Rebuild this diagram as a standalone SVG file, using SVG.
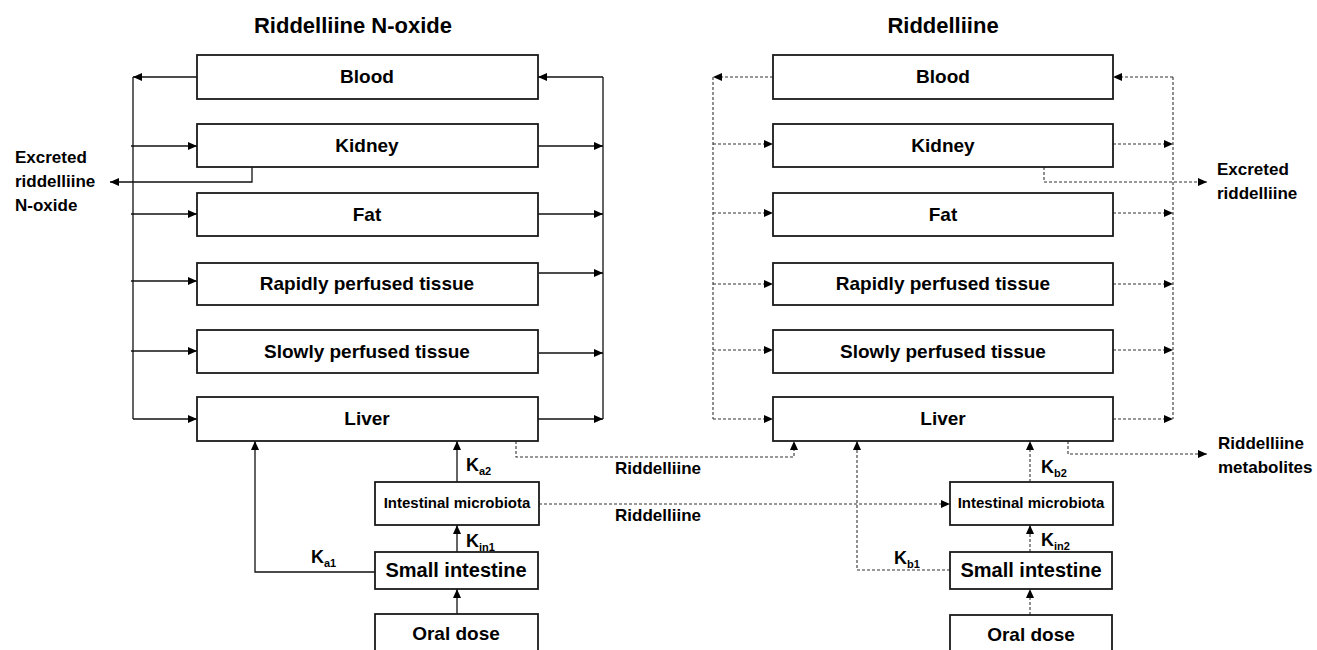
<svg xmlns="http://www.w3.org/2000/svg" width="1317" height="650" viewBox="0 0 1317 650">
<defs>
<marker id="ah" viewBox="0 0 10 10" refX="9" refY="5" markerWidth="10" markerHeight="10" markerUnits="userSpaceOnUse" orient="auto">
<path d="M0,1 L9,5 L0,9 z" fill="#000"/>
</marker>
<style>
.box{fill:#fff;stroke:#1a1a1a;stroke-width:1.8}
.t{font-family:"Liberation Sans",Arial,sans-serif;font-weight:bold;fill:#000}
.title{font-size:22px;text-anchor:middle}
.lbl{font-size:19px;text-anchor:middle}
.small{font-size:15px;text-anchor:middle}
.side{font-size:17px}
.k{font-size:18px}
.sub{font-size:11px}
.s{fill:none;stroke:#111;stroke-width:1.3}
.d{fill:none;stroke:#333;stroke-width:1.1;stroke-dasharray:3 2}
.a{marker-end:url(#ah)}
</style>
</defs>
<rect width="1317" height="650" fill="#fff"/>

<text class="t title" x="353" y="33">Riddelliine N-oxide</text>
<text class="t title" x="943" y="33">Riddelliine</text>

<g id="connectors">
<path class="s a" d="M197,77 H133"/>
<path class="s" d="M133,77 V419"/>
<path class="s a" d="M133,419 H197"/>
<path class="s a" d="M131,146 H197"/>
<path class="s a" d="M131,214 H197"/>
<path class="s a" d="M131,281 H197"/>
<path class="s a" d="M131,351 H197"/>
<path class="s a" d="M252,167 V182 H110"/>
<path class="s" d="M603,77 V419"/>
<path class="s a" d="M603,77 H538"/>
<path class="s a" d="M538,146 H603"/>
<path class="s a" d="M538,214 H603"/>
<path class="s a" d="M539,273 H603"/>
<path class="s a" d="M539,353 H603"/>
<path class="s a" d="M538,419 H603"/>
<path class="s a" d="M375,572 H255 V441"/>
<path class="s a" d="M457,482 V441"/>
<path class="s a" d="M457,552 V525"/>
<path class="s a" d="M457,614 V589"/>
<path class="d a" d="M516,441 V457 H794 V441"/>
<path class="d a" d="M539,504 H950"/>
<path class="d a" d="M773,77 H713"/>
<path class="d" d="M713,77 V419"/>
<path class="d a" d="M713,419 H773"/>
<path class="d a" d="M713,144 H773"/>
<path class="d a" d="M713,213 H773"/>
<path class="d a" d="M713,284 H773"/>
<path class="d a" d="M713,350 H773"/>
<path class="d" d="M1173,77 V419"/>
<path class="d a" d="M1173,77 H1113"/>
<path class="d a" d="M1113,144 H1173"/>
<path class="d a" d="M1113,213 H1173"/>
<path class="d a" d="M1113,284 H1173"/>
<path class="d a" d="M1113,350 H1173"/>
<path class="d a" d="M1113,419 H1173"/>
<path class="d a" d="M1044,167 V182 H1207"/>
<path class="d a" d="M1068,441 V454 H1207"/>
<path class="d a" d="M950,570 H857 V441"/>
<path class="d a" d="M1030,482 V441"/>
<path class="d a" d="M1030,552 V525"/>
<path class="d a" d="M1030,615 V589"/>
</g>

<g id="connector-labels">
<text class="t side" x="15" y="163">Excreted</text>
<text class="t side" x="15" y="187">riddelliine</text>
<text class="t side" x="15" y="211">N-oxide</text>
<text class="t side" x="1217" y="175">Excreted</text>
<text class="t side" x="1217" y="199">riddelliine</text>
<text class="t side" x="1218" y="449">Riddelliine</text>
<text class="t side" x="1218" y="473">metabolites</text>
<text class="t side" x="658" y="474" text-anchor="middle">Riddelliine</text>
<text class="t side" x="658" y="521" text-anchor="middle">Riddelliine</text>
<text class="t k" x="311" y="563">K<tspan class="sub" dy="4">a1</tspan></text>
<text class="t k" x="466" y="471">K<tspan class="sub" dy="4">a2</tspan></text>
<text class="t k" x="466" y="547">K<tspan class="sub" dy="4">in1</tspan></text>
<text class="t k" x="894" y="564">K<tspan class="sub" dy="4">b1</tspan></text>
<text class="t k" x="1041" y="473">K<tspan class="sub" dy="4">b2</tspan></text>
<text class="t k" x="1041" y="546">K<tspan class="sub" dy="4">in2</tspan></text>
</g>

<g id="L-blood"><rect class="box" x="197" y="55" width="341" height="44"/><text class="t lbl" x="367" y="83">Blood</text></g>
<g id="L-kidney"><rect class="box" x="197" y="124" width="341" height="43"/><text class="t lbl" x="367" y="152">Kidney</text></g>
<g id="L-fat"><rect class="box" x="197" y="193" width="341" height="43"/><text class="t lbl" x="367" y="221">Fat</text></g>
<g id="L-rapid"><rect class="box" x="197" y="263" width="341" height="42"/><text class="t lbl" x="367" y="290">Rapidly perfused tissue</text></g>
<g id="L-slow"><rect class="box" x="197" y="330" width="341" height="43"/><text class="t lbl" x="367" y="358">Slowly perfused tissue</text></g>
<g id="L-liver"><rect class="box" x="197" y="397" width="341" height="44"/><text class="t lbl" x="367" y="425">Liver</text></g>
<g id="L-microbiota"><rect class="box" x="375" y="482" width="164" height="43"/><text class="t small" x="457" y="508">Intestinal microbiota</text></g>
<g id="L-small"><rect class="box" x="375" y="552" width="163" height="37"/><text class="t lbl" x="456" y="577" style="font-size:20px">Small intestine</text></g>
<g id="L-oral"><rect class="box" x="375" y="614" width="163" height="40"/><text class="t lbl" x="456" y="640">Oral dose</text></g>

<g id="R-blood"><rect class="box" x="773" y="55" width="340" height="44"/><text class="t lbl" x="943" y="83">Blood</text></g>
<g id="R-kidney"><rect class="box" x="773" y="124" width="340" height="43"/><text class="t lbl" x="943" y="152">Kidney</text></g>
<g id="R-fat"><rect class="box" x="773" y="193" width="340" height="43"/><text class="t lbl" x="943" y="221">Fat</text></g>
<g id="R-rapid"><rect class="box" x="773" y="263" width="340" height="42"/><text class="t lbl" x="943" y="290">Rapidly perfused tissue</text></g>
<g id="R-slow"><rect class="box" x="773" y="330" width="340" height="43"/><text class="t lbl" x="943" y="358">Slowly perfused tissue</text></g>
<g id="R-liver"><rect class="box" x="773" y="397" width="340" height="44"/><text class="t lbl" x="943" y="425">Liver</text></g>
<g id="R-microbiota"><rect class="box" x="950" y="482" width="163" height="43"/><text class="t small" x="1031" y="508">Intestinal microbiota</text></g>
<g id="R-small"><rect class="box" x="950" y="552" width="162" height="37"/><text class="t lbl" x="1031" y="577" style="font-size:20px">Small intestine</text></g>
<g id="R-oral"><rect class="box" x="950" y="615" width="162" height="40"/><text class="t lbl" x="1031" y="641">Oral dose</text></g>
</svg>
